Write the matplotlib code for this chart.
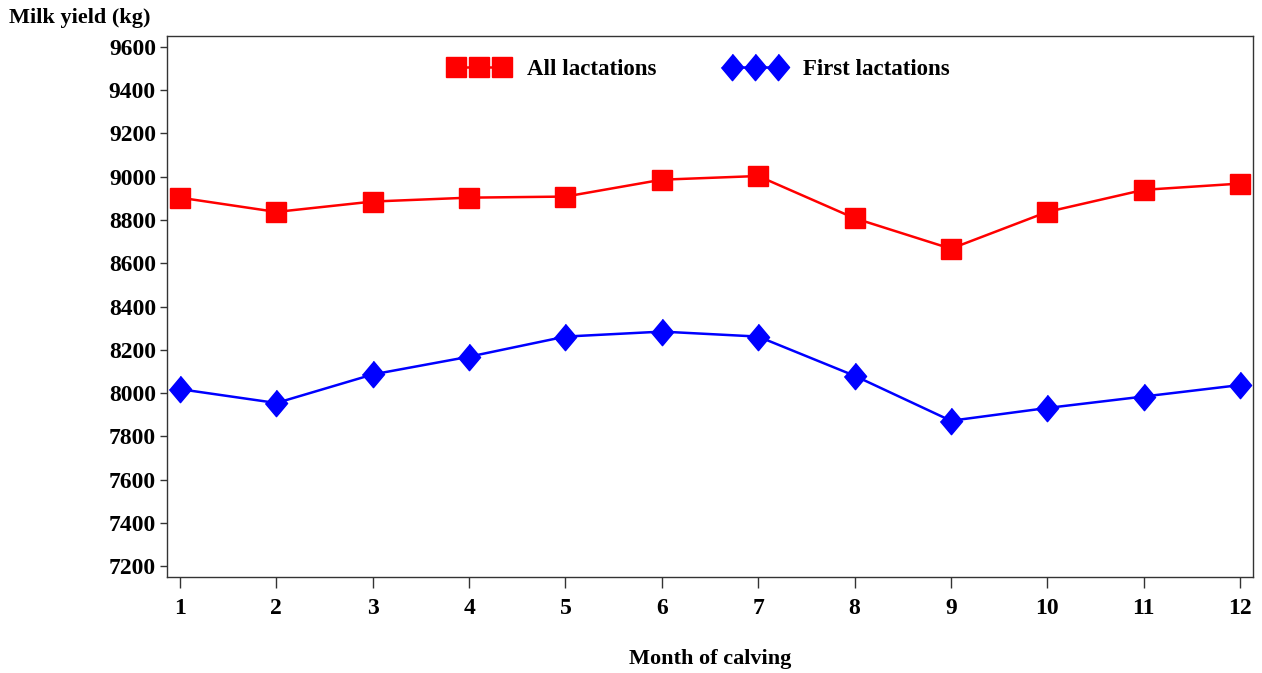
import numpy as np
import matplotlib.pyplot as plt

months = [1, 2, 3, 4, 5, 6, 7, 8, 9, 10, 11, 12]
all_lact = [8903, 8837, 8885, 8903, 8908, 8986, 9003, 8808, 8667, 8837, 8939, 8968]
first_lact = [8018, 7954, 8086, 8168, 8261, 8284, 8261, 8080, 7872, 7931, 7984, 8037]
yticks = [7200, 7400, 7600, 7800, 8000, 8200, 8400, 8600, 8800, 9000, 9200, 9400, 9600]

plt.rcParams['font.family'] = ['Liberation Serif', 'DejaVu Serif']
plt.rcParams['font.weight'] = 'bold'

fig = plt.figure(figsize=(12.62, 6.73), dpi=100)
ax = fig.add_axes([167/1262, 96/673, (1253-167)/1262, (577-36)/673])

diamond = [(0, 0.5), (0.42, 0), (0, -0.5), (-0.42, 0)]

ax.plot(months, all_lact, color='#ff0000', lw=1.8, marker='s', ms=15,
        mec='#ff0000', label='All lactations')
ax.plot(months, first_lact, color='#0000ff', lw=1.8, marker=diamond, ms=19,
        mec='#0000ff', label='First lactations')

ax.set_xlim(0.865, 12.135)
ax.set_ylim(7150, 9650)
ax.set_xticks(months)
ax.set_yticks(yticks)

for s in ax.spines.values():
    s.set_color('#333333')
    s.set_linewidth(1.0)

ax.tick_params(axis='x', direction='out', length=8, width=1, color='#333333',
               pad=7, labelsize=17)
ax.tick_params(axis='y', direction='out', length=5, width=1, color='#333333',
               pad=3, labelsize=17)
for lab in ax.get_xticklabels() + ax.get_yticklabels():
    lab.set_fontweight('bold')

fig.text(710/1262, 1 - 659/673, 'Month of calving', fontsize=16, fontweight='bold',
         ha='center', va='center')
fig.text(9/1262, 1 - 18/673, 'Milk yield (kg)', fontsize=16, fontweight='bold',
         ha='left', va='center')

leg = ax.legend(loc='upper center', bbox_to_anchor=(0.49, 0.995), ncol=2,
                frameon=False, numpoints=3, handlelength=2.6, handletextpad=0.8,
                columnspacing=3.0, prop={'size': 16.5, 'weight': 'bold'})

fig.savefig('out.png', dpi=100)
